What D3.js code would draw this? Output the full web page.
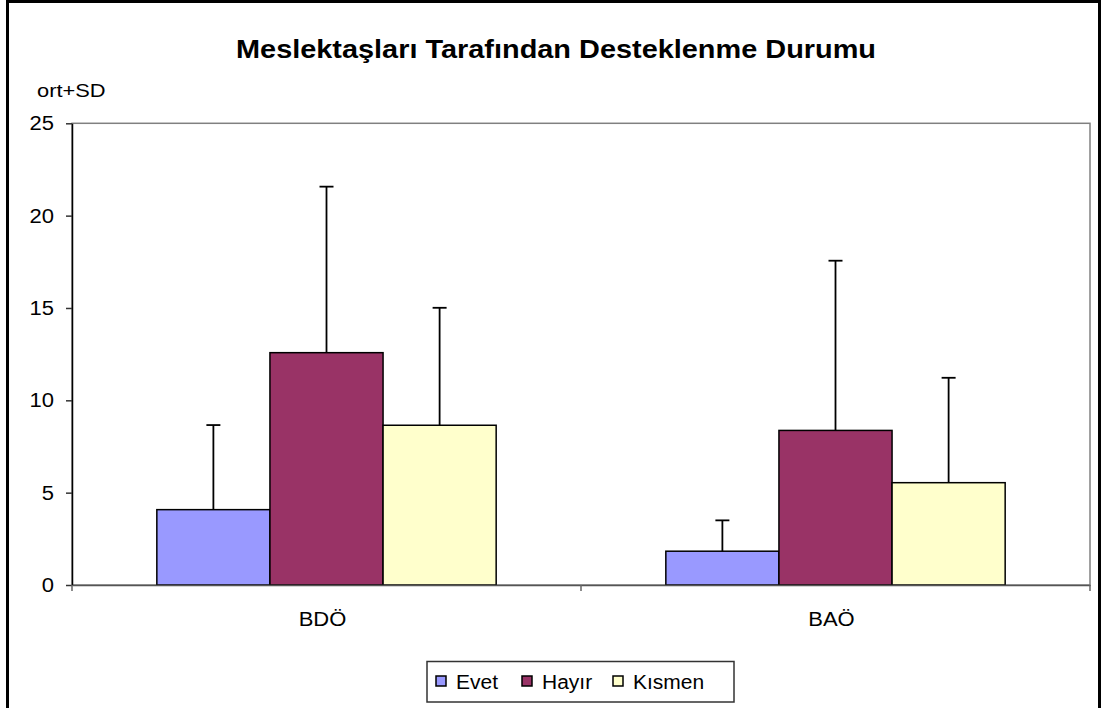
<!DOCTYPE html>
<html>
<head>
<meta charset="utf-8">
<script src="https://cdn.jsdelivr.net/npm/d3@7"></script>
<style>
  body { margin: 0; background: #fff; }
  text { font-family: Arial, "Liberation Sans", sans-serif; fill: #000; }
</style>
</head>
<body>
<div id="chart"></div>
<script>
// data (mean and SD, bars show ort, whiskers ort+SD)
var categories = ["BDÖ", "BAÖ"];
var seriesNames = ["Evet", "Hayır", "Kısmen"];
var evetMean   = [4.08, 1.83];
var evetSD     = [4.58, 1.67];
var hayirMean  = [12.58, 8.37];
var hayirSD    = [8.99, 9.19];
var kismenMean = [8.65, 5.54];
var kismenSD   = [6.36, 5.68];
var yTicks = [0, 5, 10, 15, 20, 25];

var colors = ["#9999FF", "#993366", "#FFFFCC"];

var width = 1102, height = 708;
var plot = {left: 72, right: 1090, top: 123.3, bottom: 585};

// rows for drawing
var means = [evetMean, hayirMean, kismenMean];
var sds = [evetSD, hayirSD, kismenSD];
var rows = [];
categories.forEach(function(c, i) {
  seriesNames.forEach(function(s, j) {
    rows.push({cat: c, series: s, mean: means[j][i], sd: sds[j][i], color: colors[j]});
  });
});

// widen text a little, the reference font is drawn wider
function stretch(sel, k) {
  sel.each(function() {
    var w = this.getComputedTextLength();
    d3.select(this).attr("textLength", w * k).attr("lengthAdjust", "spacingAndGlyphs");
  });
}

var svg = d3.select("#chart").append("svg")
    .attr("width", width)
    .attr("height", height);

// outer chart border
svg.append("rect")
    .attr("x", 7.5).attr("y", 1.5)
    .attr("width", 1092).attr("height", 730)
    .attr("fill", "#fff")
    .attr("stroke", "#000")
    .attr("stroke-width", 3);

// scales
var x0 = d3.scaleBand()
    .domain(categories)
    .range([plot.left, plot.right])
    .paddingInner(0).paddingOuter(0);
var x1 = d3.scaleBand()
    .domain(seriesNames)
    .range([0, x0.bandwidth()])
    .paddingInner(0).paddingOuter(0.75);
var y = d3.scaleLinear()
    .domain([0, 25])
    .range([plot.bottom, plot.top]);

// plot area border (grey)
svg.append("rect")
    .attr("x", plot.left).attr("y", plot.top)
    .attr("width", plot.right - plot.left)
    .attr("height", plot.bottom - plot.top)
    .attr("fill", "none")
    .attr("stroke", "#808080")
    .attr("stroke-width", 1.5);

// bars
svg.append("g").selectAll("rect")
  .data(rows)
  .enter()
  .append("rect")
    .attr("x", function(d) { return x0(d.cat) + x1(d.series); })
    .attr("y", function(d) { return y(d.mean); })
    .attr("width", x1.bandwidth())
    .attr("height", function(d) { return y(0) - y(d.mean); })
    .attr("fill", function(d) { return d.color; })
    .attr("stroke", "#000")
    .attr("stroke-width", 1.5);

// error bars (only ort+SD)
var err = svg.append("g").selectAll("g")
  .data(rows)
  .enter()
  .append("g")
    .attr("stroke", "#000")
    .attr("stroke-width", 1.8);
err.append("line")
    .attr("x1", function(d) { return x0(d.cat) + x1(d.series) + x1.bandwidth() / 2; })
    .attr("x2", function(d) { return x0(d.cat) + x1(d.series) + x1.bandwidth() / 2; })
    .attr("y1", function(d) { return y(d.mean); })
    .attr("y2", function(d) { return y(d.mean + d.sd); });
err.append("line")
    .attr("x1", function(d) { return x0(d.cat) + x1(d.series) + x1.bandwidth() / 2 - 7; })
    .attr("x2", function(d) { return x0(d.cat) + x1(d.series) + x1.bandwidth() / 2 + 7; })
    .attr("y1", function(d) { return y(d.mean + d.sd); })
    .attr("y2", function(d) { return y(d.mean + d.sd); });

// y axis
var yAxis = svg.append("g")
  .attr("transform", "translate(" + plot.left + ",0)")
  .call(d3.axisLeft(y).tickValues(yTicks).tickSize(6).tickPadding(12).tickSizeOuter(0));
yAxis.select(".domain").attr("stroke", "#000").attr("stroke-width", 1.5);
yAxis.selectAll(".tick line").attr("stroke", "#333").attr("stroke-width", 1.5);
yAxis.selectAll("text").style("font-size", "20px").attr("font-family", null);
stretch(yAxis.selectAll("text"), 1.1);

// x axis: labels at band centres, ticks at band edges
var xAxis = svg.append("g")
  .attr("transform", "translate(0," + plot.bottom + ")")
  .call(d3.axisBottom(x0).tickSize(0).tickPadding(27).tickSizeOuter(0));
xAxis.select(".domain").attr("stroke", "#555").attr("stroke-width", 1.5);
xAxis.selectAll("text").style("font-size", "20px").attr("font-family", null)
    .attr("dx", "-4");
stretch(xAxis.selectAll("text"), 1.1);
var edges = categories.map(function(c) { return x0(c); }).concat([plot.right]);
xAxis.selectAll(".edge")
  .data(edges)
  .enter()
  .append("line")
    .attr("x1", function(d) { return d; })
    .attr("x2", function(d) { return d; })
    .attr("y1", 0).attr("y2", 6)
    .attr("stroke", "#666")
    .attr("stroke-width", 1.5);

// title
var title = svg.append("text")
    .attr("x", 556).attr("y", 58)
    .attr("text-anchor", "middle")
    .style("font-size", "25px")
    .style("font-weight", "bold")
    .text("Meslektaşları Tarafından Desteklenme Durumu")
    .attr("textLength", 640)
    .attr("lengthAdjust", "spacingAndGlyphs");

// y axis unit label
var unit = svg.append("text")
    .attr("x", 37).attr("y", 97)
    .style("font-size", "19px")
    .text("ort+SD");
stretch(unit, 1.15);

// legend
var legend = svg.append("g");
legend.append("rect")
    .attr("x", 427).attr("y", 661.5)
    .attr("width", 307).attr("height", 40.5)
    .attr("fill", "#fff")
    .attr("stroke", "#333")
    .attr("stroke-width", 1.5);
var legendX = [436, 522, 613];
var item = legend.selectAll(".item")
  .data(seriesNames)
  .enter()
  .append("g")
    .attr("transform", function(d, i) { return "translate(" + legendX[i] + ",0)"; });
item.append("rect")
    .attr("x", 0).attr("y", 676)
    .attr("width", 10).attr("height", 10)
    .attr("fill", function(d, i) { return colors[i]; })
    .attr("stroke", "#000")
    .attr("stroke-width", 1.5);
var legendText = item.append("text")
    .attr("x", 20).attr("y", 689)
    .style("font-size", "20px")
    .text(function(d) { return d; });
stretch(legendText, 1.05);
</script>
</body>
</html>
